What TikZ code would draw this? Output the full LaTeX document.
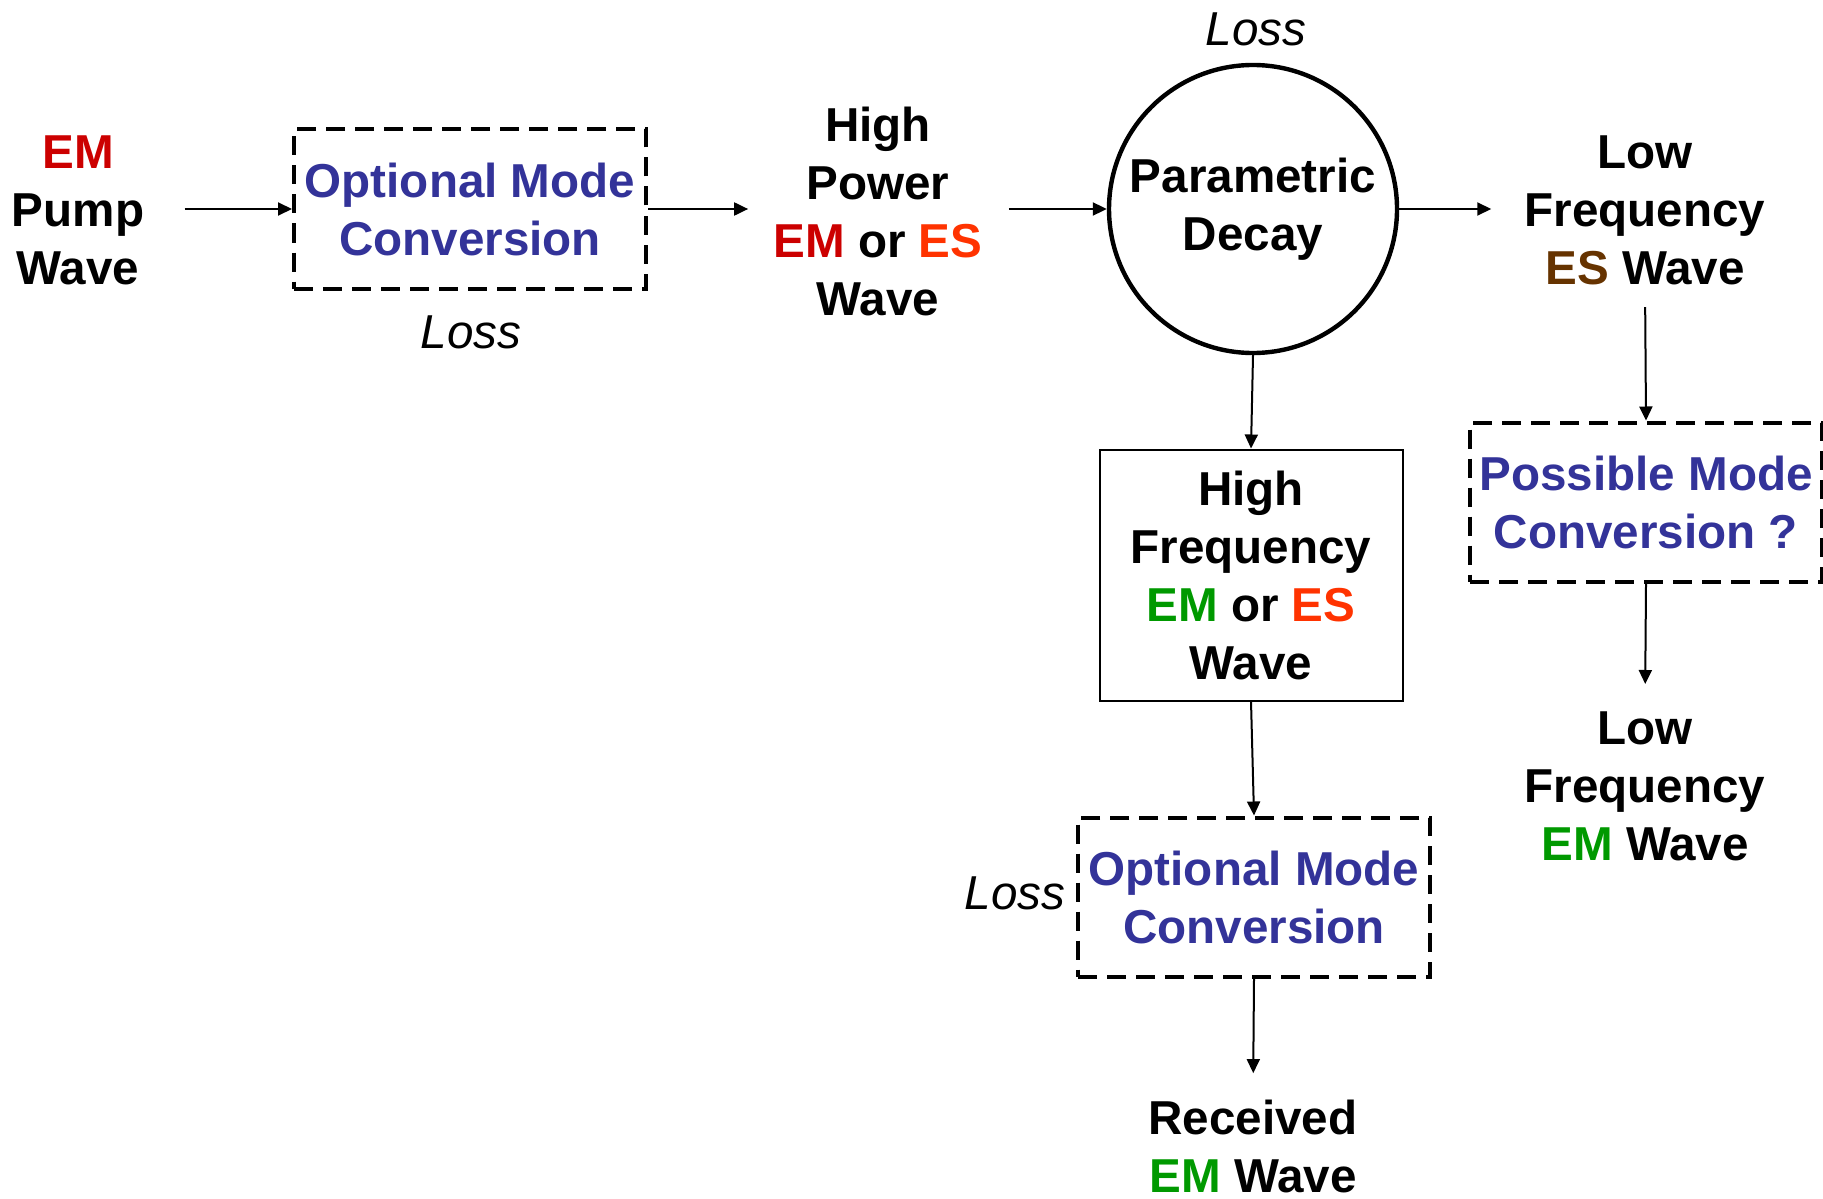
\documentclass[tikz,border=0pt]{standalone}
\usepackage{fontspec}
\setmainfont{Liberation Sans}
\usetikzlibrary{arrows.meta}
\definecolor{emred}{HTML}{CC0000}
\definecolor{esorange}{HTML}{FF3300}
\definecolor{esbrown}{HTML}{663300}
\definecolor{emgreen}{HTML}{009900}
\definecolor{modeblue}{HTML}{333399}
\tikzset{
  wave/.style={align=center, inner sep=0pt, font=\fontsize{23.8}{29}\selectfont\bfseries},
  modebox/.style={draw, line width=2pt, dash pattern=on 9.5pt off 5pt, align=center,
    text=modeblue, inner sep=0pt, minimum width=176pt, minimum height=79.5pt,
    font=\fontsize{23.8}{29}\selectfont\bfseries},
  freqbox/.style={draw, line width=1pt, align=center, inner sep=0pt,
    minimum width=151.5pt, minimum height=125.5pt, font=\fontsize{23.8}{29}\selectfont\bfseries},
  decay/.style={draw, circle, line width=2.2pt, minimum size=144pt, align=center,
    inner sep=0pt, font=\fontsize{23.8}{29}\selectfont\bfseries},
  loss/.style={inner sep=0pt, font=\fontsize{23.8}{29}\selectfont\itshape},
  flow/.style={-{Triangle[length=7pt,width=6.5pt]}, line width=1pt},
}
\begin{document}
\begin{tikzpicture}[x=0.5pt, y=-0.5pt]
    \useasboundingbox (0, 0) rectangle (1823, 1198);
    % top row
    \node[wave] (pump) at (78, 210) {\textcolor{emred}{EM}\\Pump\\Wave};
    \node[modebox] (conv1) at (470, 209) {Optional Mode\\Conversion};
    \node[loss] (loss1) at (471, 332) {Loss};
    \node[wave] (hipower) at (878, 211) {High\\Power\\\textcolor{emred}{EM} or \textcolor{esorange}{ES}\\Wave};
    \node[decay] (pd) at (1253, 209) {Parametric\\Decay};
    \node[loss] (loss2) at (1256, 29) {Loss};
    \node[wave] (lowes) at (1645, 210) {Low\\Frequency\\\textcolor{esbrown}{ES} Wave};
    % right column
    \node[modebox] (conv2) at (1646, 502) {Possible Mode\\Conversion ?};
    \node[wave] (lowem) at (1645, 786) {Low\\Frequency\\\textcolor{emgreen}{EM} Wave};
    % middle column
    \node[freqbox] (hifreq) at (1251, 575) {High\\Frequency\\\textcolor{emgreen}{EM} or \textcolor{esorange}{ES}\\Wave};
    \node[modebox] (conv3) at (1254, 897) {Optional Mode\\Conversion};
    \node[loss] (loss3) at (1015, 893) {Loss};
    \node[wave] (recv) at (1253, 1146) {Received\\\textcolor{emgreen}{EM} Wave};

    \draw[flow, shorten <=20pt] (pump.east |- conv1.west) -- (conv1.west);
    \draw[flow, shorten >=12.5pt] (conv1.east) -- (conv1.east -| hipower.west);
    \draw[flow, shorten <=13pt] (hipower.east |- pd.west) -- (pd.west);
    \draw[flow, shorten >=16.5pt] (pd.east) -- (pd.east -| lowes.west);
    \draw[flow, shorten <=11pt] (lowes.south) -- (conv2.north);
    \draw[flow, shorten >=13.5pt] (conv2.south) -- (lowem.north);
    \draw[flow] (pd.south) -- (hifreq.north);
    \draw[flow] (hifreq.south) -- (conv3.north);
    \draw[flow, shorten >=13pt] (conv3.south) -- (recv.north);
\end{tikzpicture}
\end{document}
